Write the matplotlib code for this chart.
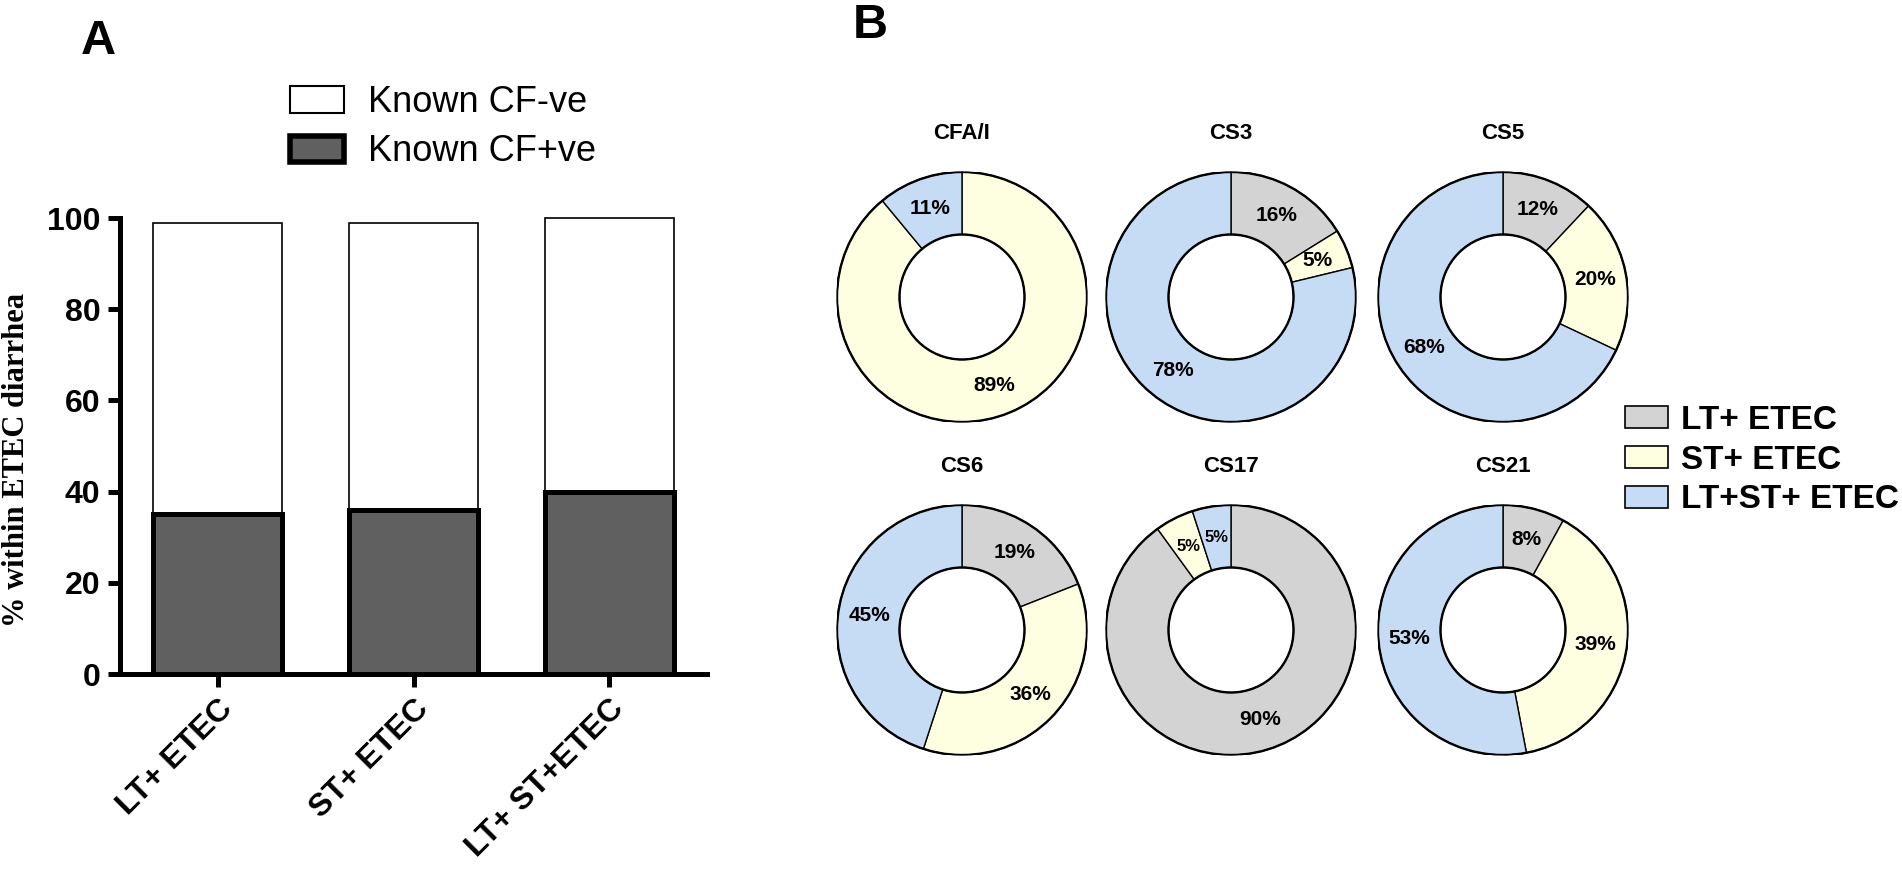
import numpy as np
import matplotlib
matplotlib.use("Agg")
import matplotlib.pyplot as plt
from matplotlib.patches import Patch, Circle

# Panel A data
categories = ["LT+ ETEC", "ST+ ETEC", "LT+ ST+ETEC"]
cf_pos = [35, 36, 40]
cf_neg = [64, 63, 60]

# Panel B data (LT+, ST+, LT+ST+)
cf_names = ["CFA/I", "CS3", "CS5", "CS6", "CS17", "CS21"]
lt_only = [0, 16, 12, 19, 90, 8]
st_only = [89, 5, 20, 36, 5, 39]
lt_st = [11, 78, 68, 45, 5, 53]
group_labels = ["LT+ ETEC", "ST+ ETEC", "LT+ST+ ETEC"]

SANS = "Liberation Sans"
SERIF = "Liberation Serif"
DARK = "#606060"
PIE_COLORS = ["#d3d3d3", "#fefee0", "#c6dcf5"]

W, H = 1902, 883
fig = plt.figure(figsize=(W / 100, H / 100), dpi=100)
plt.rcParams['font.family'] = SANS


def px_axes(x0, y0, x1, y1):
    return fig.add_axes([x0 / W, 1 - y1 / H, (x1 - x0) / W, (y1 - y0) / H])


# ---- Panel A: stacked bars ----
axA = px_axes(120, 218, 707, 674)
x = np.arange(len(categories))
axA.bar(x, cf_neg, bottom=cf_pos, width=0.66, color="white",
        edgecolor="black", linewidth=1.2, clip_on=False)
axA.bar(x, cf_pos, width=0.66, color=DARK, edgecolor="black",
        linewidth=3.6, clip_on=False)
axA.set_xlim(-0.5, 2.5)
axA.set_ylim(0, 100)
axA.set_yticks([0, 20, 40, 60, 80, 100])
axA.set_xticks(x)
axA.set_xticklabels(categories, rotation=45, ha="right", rotation_mode="anchor")
for s in ("top", "right"):
    axA.spines[s].set_visible(False)
for s in ("left", "bottom"):
    axA.spines[s].set_linewidth(3.6)
axA.tick_params(axis="both", length=9, width=3.6, labelsize=23, pad=5)
for lab in axA.get_xticklabels() + axA.get_yticklabels():
    lab.set_fontweight("bold")
axA.set_ylabel("% within ETEC diarrhea", fontfamily=SERIF, fontweight="bold",
               fontsize=22)
axA.yaxis.set_label_coords(-0.152, 0.47)

legA = fig.legend(handles=[Patch(facecolor="white", edgecolor="black", linewidth=1.5),
                           Patch(facecolor=DARK, edgecolor="black", linewidth=4)],
                  labels=["Known CF-ve", "Known CF+ve"],
                  loc="upper left", bbox_to_anchor=(290 / W, 1 - 85 / H),
                  frameon=False, fontsize=26, handlelength=1.5, handleheight=0.75,
                  labelspacing=0.4, handletextpad=0.65, borderpad=0, borderaxespad=0)

# ---- Panel B: donuts ----
R = 125
centers_x = [962, 1231, 1503]
centers_y = [297, 630]
crowded = ["CS17"]  # chart whose small-slice labels are printed smaller

for i, name in enumerate(cf_names):
    cx = centers_x[i % 3]
    cy = centers_y[i // 3]
    ax = px_axes(cx - R, cy - R, cx + R, cy + R)
    vals = [lt_only[i], st_only[i], lt_st[i]]
    wedges, _ = ax.pie(vals, colors=PIE_COLORS, startangle=90, counterclock=False,
                       radius=1, wedgeprops=dict(width=0.5, edgecolor="black",
                                                 linewidth=1.0))
    ax.add_patch(Circle((0, 0), 1, fill=False, edgecolor="black", linewidth=1.7))
    ax.add_patch(Circle((0, 0), 0.5, fill=False, edgecolor="black", linewidth=1.7))
    for w, v in zip(wedges, vals):
        if v == 0:
            continue
        ang = np.deg2rad((w.theta1 + w.theta2) / 2)
        fs = 12 if (name in crowded and v <= 5) else 15
        ax.text(0.75 * np.cos(ang), 0.75 * np.sin(ang), f"{v}%", ha="center",
                va="center", fontsize=fs, fontweight="bold")
    ax.text(0, 1.31, name, ha="center", va="center", fontsize=16,
            fontweight="bold", clip_on=False)
    ax.set_xlim(-1, 1)
    ax.set_ylim(-1, 1)
    ax.axis("off")

legB = fig.legend(handles=[Patch(facecolor=c, edgecolor="black", linewidth=1.2)
                           for c in PIE_COLORS],
                  labels=group_labels, loc="upper left",
                  bbox_to_anchor=(1625 / W, 1 - 405 / H), frameon=False,
                  prop=dict(family=SANS, weight="bold", size=24),
                  handlelength=1.3, handleheight=0.64, labelspacing=0.26,
                  handletextpad=0.38, borderpad=0, borderaxespad=0)

fig.text(98 / W, 1 - 42 / H, "A", fontsize=35, fontweight="bold", ha="center", va="center")
fig.text(870 / W, 1 - 25 / H, "B", fontsize=35, fontweight="bold", ha="center", va="center")

fig.savefig("out.png", dpi=100)
